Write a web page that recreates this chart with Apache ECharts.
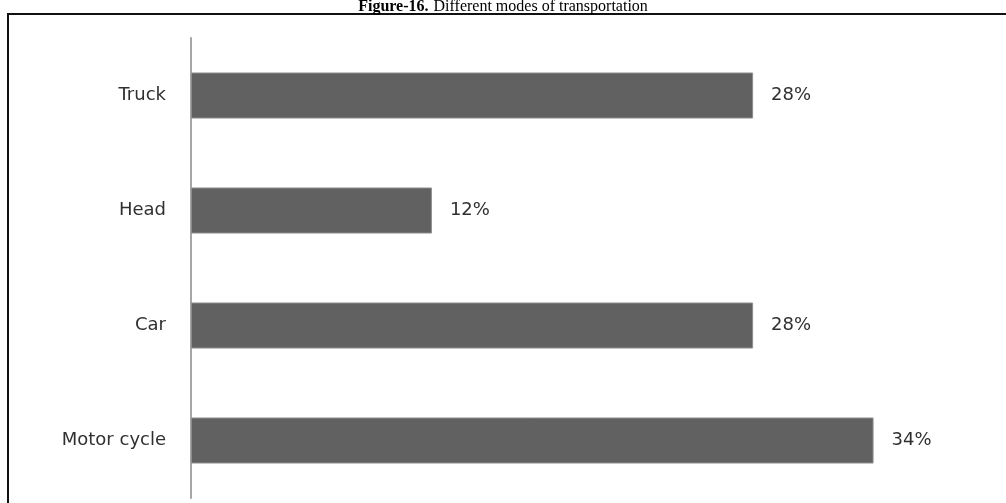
<!DOCTYPE html>
<html lang="en">
<head>
    <meta charset="UTF-8">
    <title>Different modes of transportation</title>
    <script src="https://cdn.jsdelivr.net/npm/echarts@6/dist/echarts.min.js"></script>
    <style>
        html, body { margin: 0; padding: 0; background: #fff; }
        #chart_swarp { width: 1006px; height: 503px; }
    </style>
</head>
<body>
    <div id="chart_swarp"></div>
    <script type="text/javascript">
        // data (bottom to top, as the category axis draws it)
        var modes = ['Motor cycle', 'Car', 'Head', 'Truck'];
        var shares = [34, 28, 12, 28];

        var chart = echarts.init(document.getElementById('chart_swarp'));
        var option = {
            backgroundColor: '#fff',
            animation: false,
            // caption above the box, its top is cut off in the source
            title: {
                left: 'center',
                top: -7,
                text: '{b|Figure-16.} {r|Different modes of transportation}',
                textStyle: {
                    fontWeight: 'normal',
                    rich: {
                        b: { fontFamily: 'Liberation Serif', fontWeight: 'bold', fontSize: 16, color: '#000' },
                        r: { fontFamily: 'Liberation Serif', fontWeight: 'normal', fontSize: 16, color: '#000' }
                    }
                }
            },
            // frame around the chart
            graphic: [{
                type: 'rect',
                shape: { x: 8, y: 14, width: 1100, height: 600 },
                style: { fill: 'none', stroke: '#111', lineWidth: 2 },
                silent: true
            }],
            grid: { left: 191, right: 12, top: 38, bottom: 5 },
            xAxis: {
                type: 'value',
                min: 0,
                max: 40,
                show: false
            },
            yAxis: {
                type: 'category',
                data: modes,
                axisLine: { lineStyle: { color: '#a6a6a6', width: 2 } },
                axisTick: { show: false },
                axisLabel: {
                    margin: 25,
                    fontFamily: 'DejaVu Sans',
                    fontSize: 18,
                    color: '#303030'
                }
            },
            series: [{
                type: 'bar',
                data: shares,
                barWidth: 46,
                itemStyle: { color: '#616161', borderColor: '#8c8c8c', borderWidth: 1 },
                label: {
                    show: true,
                    position: 'right',
                    distance: 18,
                    formatter: '{c}%',
                    fontFamily: 'DejaVu Sans',
                    fontSize: 18,
                    color: '#303030'
                }
            }]
        };
        chart.setOption(option);
    </script>
</body>
</html>
